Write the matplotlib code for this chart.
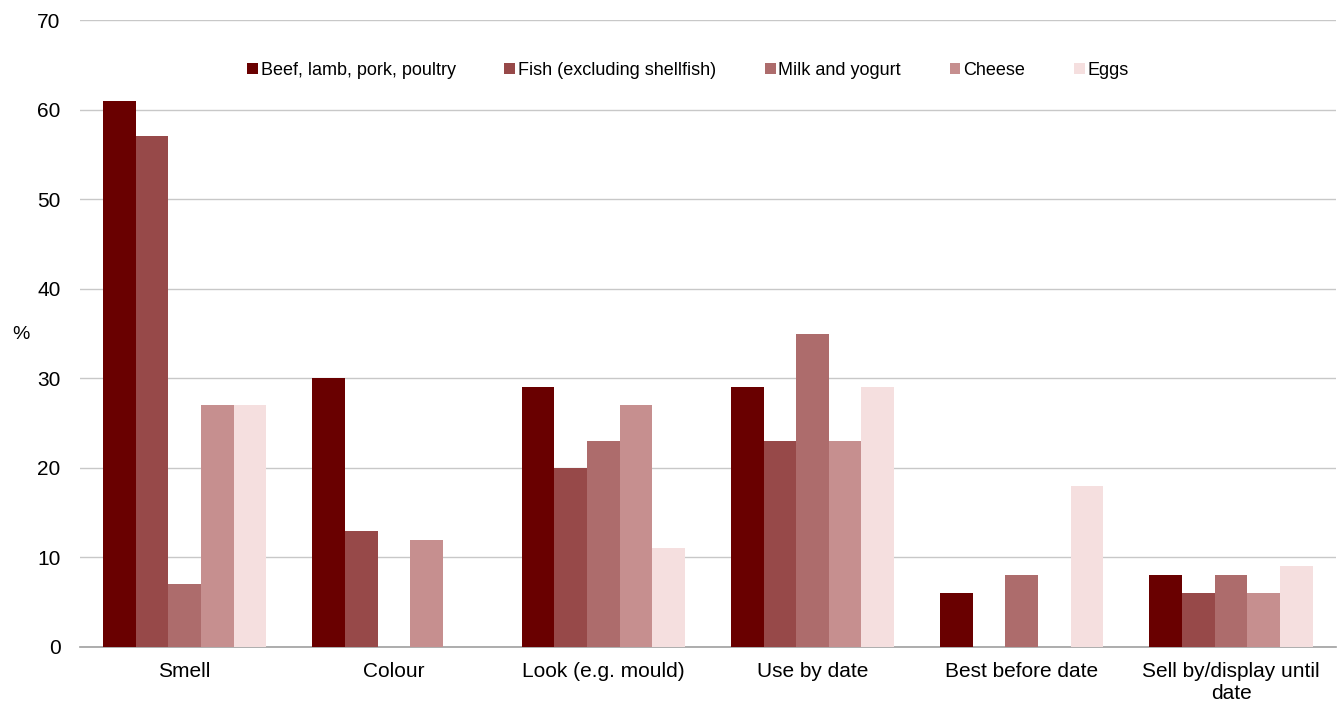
import numpy as np
import matplotlib
matplotlib.use("Agg")
import matplotlib.pyplot as plt

categories = ["Smell", "Colour", "Look (e.g. mould)", "Use by date",
              "Best before date", "Sell by/display until\ndate"]
series = ["Beef, lamb, pork, poultry", "Fish (excluding shellfish)",
          "Milk and yogurt", "Cheese", "Eggs"]
beef = [61, 30, 29, 29, 6, 8]
fish = [57, 13, 20, 23, 0, 6]
milk = [7, 0, 23, 35, 8, 8]
cheese = [27, 12, 27, 23, 0, 6]
eggs = [27, 0, 11, 29, 18, 9]
colors = ["#690000", "#974949", "#ad6c6c", "#c68f8f", "#f5dfdf"]

plt.rcParams['font.family'] = ['Liberation Sans', 'DejaVu Sans']

fig = plt.figure(figsize=(13.41, 7.05), dpi=100)
ax = fig.add_axes([0.0597, 0.0823, 0.9363, 0.8893])

x = np.arange(len(categories))
w = 0.156
for i, (vals, name) in enumerate(zip([beef, fish, milk, cheese, eggs], series)):
    ax.bar(x + (i - 2) * w, vals, width=w, color=colors[i], label=name, zorder=3)

ax.set_xlim(-0.5, len(categories) - 0.5)
ax.set_ylim(0, 70)
ax.set_yticks(range(0, 71, 10))
ax.set_xticks(x)
ax.set_xticklabels(categories, fontsize=15, linespacing=1.15)
ax.tick_params(axis='y', labelsize=15, length=0, pad=14)
ax.tick_params(axis='x', length=0, pad=11)
ax.grid(axis='y', color='#c8c8c8', linewidth=1, zorder=0)
for s in ['top', 'right', 'left']:
    ax.spines[s].set_visible(False)
ax.spines['bottom'].set_color('#a0a0a0')
ax.spines['bottom'].set_linewidth(1.2)

ax.set_ylabel('%', fontsize=14, rotation=0, va='center', ha='center')
ax.yaxis.set_label_coords(-0.047, 0.498)

ax.legend(loc='center', bbox_to_anchor=(0.484, 0.92), ncol=5, frameon=False,
          fontsize=13, handlelength=0.6, handleheight=0.6, handletextpad=0.15,
          columnspacing=2.7)

fig.savefig("out.png", dpi=100)
